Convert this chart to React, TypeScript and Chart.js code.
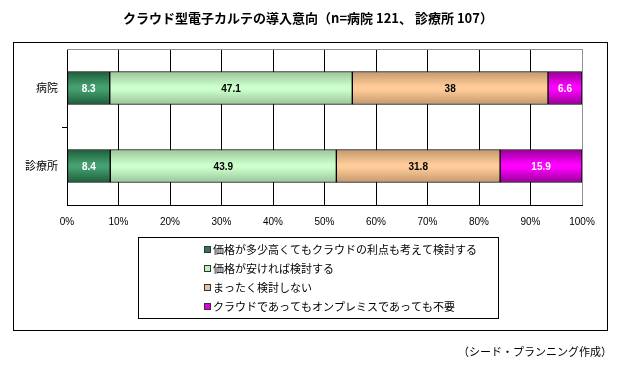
import React, { useEffect, useRef } from "react";
import { Chart, registerables } from "chart.js";

Chart.register(...registerables);

const title = "クラウド型電子カルテの導入意向（n=病院 121、 診療所 107）";
const source = "（シード・プランニング作成）";
const categories = ["病院", "診療所"];
const seriesNames = [
  "価格が多少高くてもクラウドの利点も考えて検討する",
  "価格が安ければ検討する",
  "まったく検討しない",
  "クラウドであってもオンプレミスであっても不要",
];
const s1 = [8.3, 8.4];
const s2 = [47.1, 43.9];
const s3 = [38, 31.8];
const s4 = [6.6, 15.9];
const xTicks = [0, 10, 20, 30, 40, 50, 60, 70, 80, 90, 100];

const edgeColors = ["#1f5f3d", "#9cc79c", "#c49a70", "#9a009a"];
const midColors = ["#45a070", "#ccffcc", "#ffcc99", "#ff00ff"];
const legendColors = ["#2f7a52", "#bfeebf", "#e8c0a0", "#e000e0"];
const labelColors = ["#ffffff", "#000000", "#000000", "#ffffff"];

const JP = '"Noto Sans CJK JP", "Liberation Sans", sans-serif';

export default function App() {
  const ref = useRef<HTMLCanvasElement | null>(null);

  useEffect(() => {
    document.body.style.margin = "0";
    const canvas = ref.current;
    if (!canvas) return;

    const grad = (i: number) => (ctx: any) => {
      const chart = ctx.chart;
      const ys = chart.scales && chart.scales.y;
      if (!ys || !chart.chartArea || ctx.dataIndex === undefined) return midColors[i];
      const y = ys.getPixelForValue(ctx.dataIndex);
      const g = chart.ctx.createLinearGradient(0, y - 16, 0, y + 16);
      g.addColorStop(0, edgeColors[i]);
      g.addColorStop(0.45, midColors[i]);
      g.addColorStop(0.55, midColors[i]);
      g.addColorStop(1, edgeColors[i]);
      return g;
    };

    const decor = {
      id: "decor",
      beforeDatasetsDraw(chart: any) {
        const { ctx, chartArea: a } = chart;
        ctx.save();
        ctx.strokeStyle = "#909090";
        ctx.lineWidth = 1;
        ctx.beginPath();
        ctx.moveTo(a.left, a.top + 0.5);
        ctx.lineTo(a.right + 0.5, a.top + 0.5);
        ctx.lineTo(a.right + 0.5, a.bottom);
        ctx.stroke();
        ctx.restore();
      },
      afterDraw(chart: any) {
        const { ctx } = chart;
        ctx.save();
        // outer frame
        ctx.strokeStyle = "#000";
        ctx.lineWidth = 1;
        ctx.strokeRect(13.5, 42.5, 594, 288);
        // title
        ctx.fillStyle = "#000";
        ctx.font = `bold 13px ${JP}`;
        ctx.textAlign = "center";
        ctx.textBaseline = "middle";
        ctx.fillText(title, 308, 18);
        // source
        ctx.font = `11px ${JP}`;
        ctx.textAlign = "right";
        ctx.fillText(source, 612, 352);
        // data labels
        ctx.font = `bold 10px "Liberation Sans", Arial, sans-serif`;
        ctx.textAlign = "center";
        chart.data.datasets.forEach((ds: any, di: number) => {
          const meta = chart.getDatasetMeta(di);
          meta.data.forEach((el: any, i: number) => {
            const cx = (el.x + el.base) / 2;
            ctx.fillStyle = labelColors[di];
            ctx.fillText(String(ds.data[i]), cx, el.y + 1);
          });
        });
        // legend box
        ctx.strokeStyle = "#000";
        ctx.strokeRect(138.5, 237.5, 360, 81);
        ctx.font = `11px ${JP}`;
        ctx.textAlign = "left";
        chart.data.datasets.forEach((ds: any, di: number) => {
          const y = 250 + di * 19;
          ctx.fillStyle = legendColors[di];
          ctx.fillRect(204, y - 4, 7, 7);
          ctx.strokeStyle = "#333";
          ctx.strokeRect(204.5, y - 3.5, 6, 6);
          ctx.fillStyle = "#000";
          ctx.fillText(ds.label, 213, y);
        });
        ctx.restore();
      },
    };

    const mk = (i: number, data: number[]) => ({
      label: seriesNames[i],
      data,
      backgroundColor: grad(i),
      borderColor: "#000",
      borderWidth: 1,
      borderSkipped: false,
      barThickness: 33,
    });

    const chart = new Chart(canvas, {
      type: "bar",
      data: {
        labels: categories,
        datasets: [mk(0, s1), mk(1, s2), mk(2, s3), mk(3, s4)],
      },
      options: {
        indexAxis: "y",
        animation: false,
        responsive: false,
        maintainAspectRatio: false,
        layout: { padding: { left: 13, top: 49, right: 37, bottom: 0 } },
        plugins: {
          legend: { display: false },
          title: { display: false },
          tooltip: { enabled: false },
        },
        scales: {
          x: {
            stacked: true,
            min: 0,
            max: 100,
            afterFit: (s: any) => {
              s.height = 160;
            },
            afterBuildTicks: (s: any) => {
              s.ticks = xTicks.map((v) => ({ value: v }));
            },
            border: { display: true, color: "#000", width: 1 },
            grid: {
              drawTicks: false,
              color: (c: any) => (c.index === 10 ? "#909090" : "#000"),
              lineWidth: 1,
            },
            ticks: {
              padding: 11,
              color: "#000",
              font: { family: '"Liberation Sans", Arial, sans-serif', size: 10 },
              callback: (v: any) => `${v}%`,
            },
          },
          y: {
            stacked: true,
            afterFit: (s: any) => {
              s.width = 54;
            },
            border: { display: true, color: "#000", width: 1 },
            grid: {
              offset: true,
              drawOnChartArea: false,
              drawTicks: true,
              tickLength: 5,
              color: (c: any) => (c.index === 1 ? "#000" : "rgba(0,0,0,0)"),
            },
            ticks: {
              padding: 4,
              color: "#000",
              font: { family: JP, size: 11 },
            },
          },
        },
      },
      plugins: [decor],
    });

    return () => chart.destroy();
  }, []);

  return (
    <div style={{ width: 619, height: 365 }}>
      <canvas ref={ref} width={619} height={365} style={{ display: "block", width: 619, height: 365 }} />
    </div>
  );
}
